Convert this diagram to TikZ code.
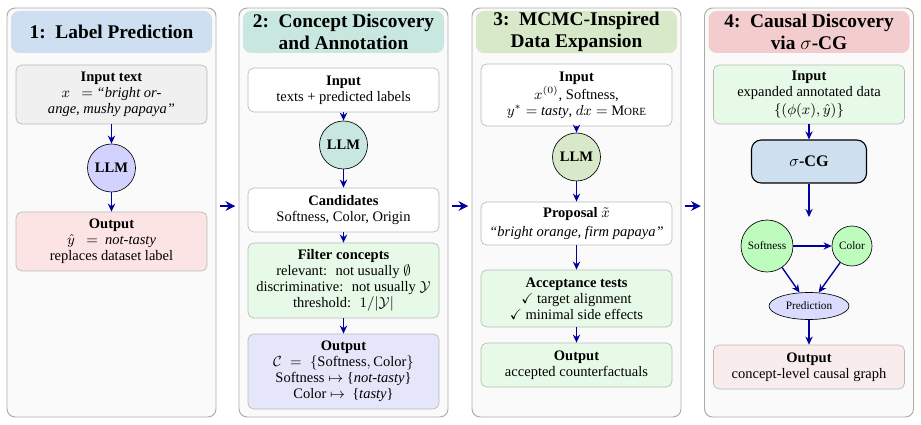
\documentclass[tikz,border=0pt]{standalone}
\usepackage{amsmath,amssymb}
\usepackage{fontspec}
\setmainfont{Liberation Serif}
\usepackage{tikz}
\usetikzlibrary{arrows.meta, positioning, shapes.geometric}
\definecolor{flowblue}{RGB}{0,0,160}
\definecolor{ttlblue}{RGB}{205,223,240}
\definecolor{ttlteal}{RGB}{200,231,223}
\definecolor{ttlgreen}{RGB}{215,233,200}
\definecolor{ttlred}{RGB}{243,205,205}
\definecolor{cardgray}{RGB}{240,240,240}
\definecolor{cardpink}{RGB}{253,228,228}
\definecolor{cardgreen}{RGB}{231,250,231}
\definecolor{cardlav}{RGB}{230,230,250}
\definecolor{cardrose}{RGB}{249,236,236}
\definecolor{llmlav}{RGB}{210,210,255}
\definecolor{cgblue}{RGB}{206,223,239}
\definecolor{conceptgreen}{RGB}{190,252,190}
\newcommand{\pxu}{0.62pt}
\newcommand{\More}{M{\fontsize{6.8}{7}\selectfont ORE}}

\begin{document}
\begin{tikzpicture}[
    x=0.62pt, y=-0.62pt,
    panel/.style={draw=gray!65, fill=gray!4, rounded corners=5pt, line width=0.6pt, minimum width=209*\pxu, minimum height=409*\pxu},
    ttl/.style={fill=#1, rounded corners=5pt, minimum width=201*\pxu, minimum height=42*\pxu, align=center, inner sep=1pt, font=\fontsize{12}{13.4}\selectfont\bfseries},
    card/.style={draw=gray!55, fill=#1, rounded corners=3.5pt, minimum width=191*\pxu, align=center, inner sep=2pt, font=\fontsize{9}{10}\selectfont},
    card/.default=white,
    llm/.style={circle, draw, fill=#1, minimum size=48*\pxu, inner sep=0pt, font=\fontsize{9}{10}\selectfont\bfseries},
    concept/.style={circle, draw, fill=conceptgreen, inner sep=0pt, font=\fontsize{7}{8}\selectfont},
    flow/.style={-{Stealth[length=5pt, width=4.5pt]}, line width=0.85pt, flowblue},
    hop/.style={-{Stealth[length=6pt, width=6pt]}, line width=1.1pt, flowblue, shorten <=2pt, shorten >=2pt},
]
  \useasboundingbox (0,0) rectangle (921,425);

  % Panels
  \node[panel] (p1) at (111.5, 212.5) {};
  \node[panel] (p2) at (343.5, 212.5) {};
  \node[panel] (p3) at (576.5, 212.5) {};
  \node[panel] (p4) at (809, 212.5) {};

  % Panel 1: label prediction
  \node[ttl=ttlblue] (t1) at (111.5, 32) {1:~~Label Prediction};
  \node[card=cardgray, minimum height=59*\pxu] (in1) at (111.5, 94.5) {\textbf{Input text}\\ $x\ \ =\ $\textit{``bright or-}\\ \textit{ange, mushy papaya''}};
  \node[llm=llmlav] (llm1) at (111.5, 168) {LLM};
  \node[card=cardpink, minimum height=59*\pxu] (out1) at (111.5, 241.5) {\textbf{Output}\\ $\hat{y}\ \ =\ \ $\textit{not-tasty}\\ replaces dataset label};
  \draw[flow] (in1) -- (llm1);
  \draw[flow] (llm1) -- (out1);

  % Panel 2: concept discovery
  \node[ttl=ttlteal] (t2) at (343.5, 32) {2:~~Concept Discovery\\ and Annotation};
  \node[card, minimum height=44*\pxu] (in2) at (343.5, 90) {\textbf{Input}\\ texts + predicted labels};
  \node[llm=ttlteal] (llm2) at (343.5, 145) {LLM};
  \node[card, minimum height=44*\pxu] (cand2) at (343.5, 210) {\textbf{Candidates}\\ Softness, Color, Origin};
  \node[card=cardgreen, minimum height=75*\pxu] (filt2) at (343.5, 280.5) {\textbf{Filter concepts}\\ relevant:~ not usually $\emptyset$\\ discriminative:~ not usually $\mathcal{Y}$\\ threshold:~ $1/|\mathcal{Y}|$};
  \node[card=cardlav, minimum height=75*\pxu] (out2) at (343.5, 371.5) {\textbf{Output}\\ $\mathcal{C}\;=\;\{\textrm{Softness}, \textrm{Color}\}$\\ Softness $\mapsto$ \{\textit{not-tasty}\}\\ Color $\mapsto$ \ \{\textit{tasty}\}};
  \draw[flow] (in2) -- (llm2);
  \draw[flow] (llm2) -- (cand2);
  \draw[flow] (cand2) -- (filt2);
  \draw[flow] (filt2) -- (out2);

  % Panel 3: MCMC-inspired expansion
  \node[ttl=ttlgreen] (t3) at (576.5, 32) {3:~~MCMC-Inspired\\ Data Expansion};
  \node[card, minimum height=62*\pxu] (in3) at (576.5, 95) {\textbf{Input}\\ $x^{(0)}$, Softness,\\ $y^* =$ \textit{tasty}, $dx =$ \More};
  \node[llm=ttlgreen] (llm3) at (576.5, 157) {LLM};
  \node[card, minimum height=43*\pxu] (prop3) at (576.5, 223.5) {\textbf{Proposal} $\tilde{x}$\\[1.5pt] \textit{``bright orange, firm papaya''}};
  \node[card=cardgreen, minimum height=57*\pxu] (acc3) at (576.5, 298.5) {\textbf{Acceptance tests}\\ $\checkmark$ target alignment\\ $\checkmark$ minimal side effects};
  \node[card=cardgreen, minimum height=44*\pxu] (out3) at (576.5, 365) {\textbf{Output}\\ accepted counterfactuals};
  \draw[flow] (in3) -- (llm3);
  \draw[flow] (llm3) -- (prop3);
  \draw[flow] (prop3) -- (acc3);
  \draw[flow] (acc3) -- (out3);

  % Panel 4: causal discovery
  \node[ttl=ttlred] (t4) at (809, 32) {4:~~Causal Discovery\\ via $\sigma$-CG};
  \node[card=cardgreen, minimum height=59*\pxu] (in4) at (809, 94.5) {\textbf{Input}\\ expanded annotated data\\[1.5pt] $\{(\phi(x),\hat{y})\}$};
  \node[draw, fill=cgblue, rounded corners=6pt, line width=0.7pt, minimum width=115*\pxu, minimum height=43*\pxu, font=\fontsize{10}{12}\selectfont\bfseries] (cg4) at (809, 161.5) {$\sigma$-CG};
  \coordinate (hub4) at (809, 217);
  \node[concept, minimum size=52*\pxu] (soft4) at (767, 246) {Softness};
  \node[concept, minimum size=40*\pxu] (col4) at (852, 246) {Color};
  \node[ellipse, draw, fill=llmlav!80, minimum width=80*\pxu, minimum height=27*\pxu, inner sep=0pt, font=\fontsize{7}{8}\selectfont] (pred4) at (809, 306) {Prediction};
  \node[card=cardrose, minimum height=44*\pxu] (out4) at (809, 367) {\textbf{Output}\\ concept-level causal graph};
  \draw[flow] (in4) -- (cg4);
  \draw[flow] (cg4) -- (hub4);
  \draw[flow] (soft4) -- (col4);
  \draw[flow] (soft4) -- (pred4);
  \draw[flow] (col4) -- (pred4);
  \draw[flow] (pred4) -- (out4);

  % Between panels
  \draw[hop] ([yshift=4pt]p1.east) -- ([yshift=4pt]p2.west);
  \draw[hop] ([yshift=4pt]p2.east) -- ([yshift=4pt]p3.west);
  \draw[hop] ([yshift=4pt]p3.east) -- ([yshift=4pt]p4.west);
\end{tikzpicture}
\end{document}
